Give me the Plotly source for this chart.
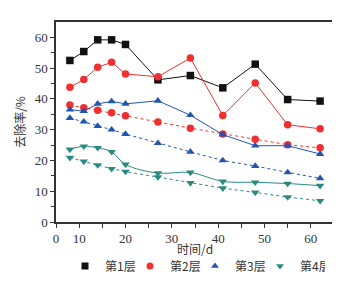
import plotly.graph_objects as go

days = [8, 11, 14, 17, 20, 27, 34, 41, 48, 55, 62]
layer1 = [52.5, 55.4, 59.2, 59.2, 57.7, 46.2, 47.6, 43.6, 51.3, 39.8, 39.3]
layer2 = [43.8, 46.3, 50.3, 51.9, 48.1, 47.2, 53.3, 34.6, 45.2, 31.6, 30.3]
layer2_b = [38.0, 37.1, 36.3, 35.5, 34.5, 32.5, 30.5, 28.6, 26.9, 25.1, 24.1]
layer3 = [36.5, 36.0, 38.4, 39.2, 38.4, 39.4, 34.7, 28.4, 24.8, 24.8, 22.1]
layer3_b = [33.8, 32.6, 31.2, 30.0, 28.6, 25.6, 22.8, 20.0, 18.2, 16.1, 14.2]
layer4 = [23.6, 24.6, 24.1, 22.8, 18.7, 15.9, 16.1, 13.2, 12.9, 12.5, 11.8]
layer4_b = [20.9, 19.7, 18.5, 17.3, 16.4, 14.6, 12.7, 11.0, 9.6, 8.1, 6.9]

names = ["第1层", "第2层", "第3层", "第4层"]
x_tickvals = [5, 10, 20, 30, 40, 50, 60]
x_ticktext = ["0", "10", "20", "30", "40", "50", "60"]
y_tickvals = [0, 10, 20, 30, 40, 50, 60]

BLACK = "#111111"
RED = "#f03030"
BLUE = "#2255b0"
TEAL = "#2a8a82"

fig = go.Figure()

def add(y, color, symbol, dash, shape="linear", lw=1.0):
    fig.add_trace(go.Scatter(
        x=days, y=y, mode="lines+markers", showlegend=False,
        line=dict(color=color, width=lw, dash=dash, shape=shape),
        marker=dict(color=color, symbol=symbol, size=7.5),
    ))

add(layer1, BLACK, "square", "solid")
add(layer2, RED, "circle", "solid")
add(layer2_b, RED, "circle", "dot")
add(layer3, BLUE, "triangle-up", "solid")
add(layer3_b, BLUE, "triangle-up", "dot")
add(layer4, TEAL, "triangle-down", "solid", shape="spline")
add(layer4_b, TEAL, "triangle-down", "dot")

for name, color, symbol in zip(names, [BLACK, RED, BLUE, TEAL],
                               ["square", "circle", "triangle-up", "triangle-down"]):
    fig.add_trace(go.Scatter(
        x=[None], y=[None], mode="markers", name=name,
        marker=dict(color=color, symbol=symbol, size=7),
    ))

serif = "Liberation Serif"
cjk = "Noto Sans CJK SC"

fig.update_layout(
    width=340, height=285,
    margin=dict(l=43, r=12, t=13, b=61),
    paper_bgcolor="white", plot_bgcolor="white",
    font=dict(family=serif, size=13, color="#333333"),
    xaxis=dict(
        range=[5, 65], tickvals=x_tickvals, ticktext=x_ticktext,
        ticks="outside", ticklen=4, tickcolor="#333", tickwidth=1,
        showline=True, linecolor="#333", linewidth=1.5, mirror=True,
        showgrid=False, zeroline=False,
        minor=dict(tickvals=[15, 25, 35, 45, 55], ticks="outside", ticklen=4, tickcolor="#333"),
    ),
    yaxis=dict(
        range=[0, 65], tickvals=y_tickvals,
        ticks="outside", ticklen=4, tickcolor="#333", tickwidth=1,
        showline=True, linecolor="#333", linewidth=1.5, mirror=True,
        showgrid=False, zeroline=False,
        minor=dict(tickvals=[5, 15, 25, 35, 45, 55], ticks="outside", ticklen=3, tickcolor="#333"),
        title=dict(text="去除率/%", font=dict(family=cjk, size=12, color="#333"), standoff=6),
    ),
    legend=dict(
        orientation="h", x=0.5, xanchor="center", y=-0.22, yanchor="middle",
        font=dict(family=cjk, size=12, color="#333"),
        itemwidth=30, entrywidth=20, bgcolor="rgba(0,0,0,0)",
    ),
    annotations=[dict(
        text="时间/d", xref="paper", yref="paper", x=0.5, y=-0.132,
        xanchor="center", yanchor="middle", showarrow=False,
        font=dict(family=cjk, size=12, color="#333"),
    )],
)

fig.write_html("out.html")
